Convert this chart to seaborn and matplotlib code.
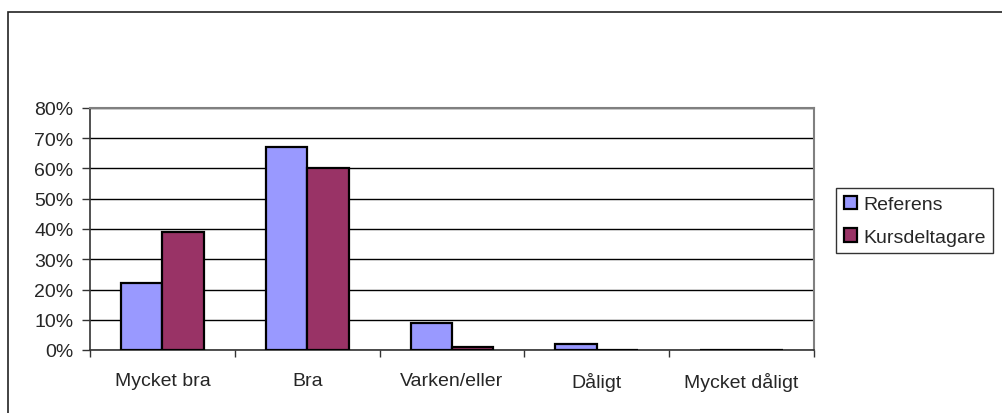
import numpy as np
import pandas as pd
import seaborn as sns
import matplotlib.pyplot as plt
from matplotlib.patches import Patch, Rectangle
from matplotlib.ticker import PercentFormatter, MultipleLocator, FixedLocator

# Data (percent)
categories = ['Mycket bra', 'Bra', 'Varken/eller', 'Dåligt', 'Mycket dåligt']
series = ['Referens', 'Kursdeltagare']
referens = [22, 67, 9, 2, 0]
kursdeltagare = [39, 60, 1, 0, 0]
colors = ['#9999FF', '#993366']

df = pd.DataFrame({
    'kategori': categories * 2,
    'grupp': [series[0]] * len(categories) + [series[1]] * len(categories),
    'andel': referens + kursdeltagare,
})

sns.set_style('white')
plt.rcParams['font.family'] = ['Liberation Sans', 'DejaVu Sans']
FS = 14

fig = plt.figure(figsize=(10.03, 4.14), dpi=100)
ax = fig.add_axes([90 / 1003, 1 - 351 / 414, (814 - 90) / 1003, (351 - 109) / 414])

sns.barplot(data=df, x='kategori', y='andel', hue='grupp', hue_order=series,
            palette=colors, width=0.571, edgecolor='black', linewidth=1.6,
            saturation=1, legend=False, ax=ax, zorder=3)

ax.set_xlim(-0.5, len(categories) - 0.5)
ax.set_ylim(0, 80)
ax.yaxis.set_major_locator(MultipleLocator(10))
ax.yaxis.set_major_formatter(PercentFormatter(100, decimals=0))
ax.grid(axis='y', color='black', linewidth=1, zorder=0)
ax.set_xlabel('')
ax.set_ylabel('')

# ticks: y outward on left, x ticks between categories
ax.tick_params(axis='y', which='major', left=True, length=6, width=1,
               color='#333333', labelsize=FS, pad=6)
ax.tick_params(axis='x', which='major', bottom=True, length=0, labelsize=FS, pad=16)
ax.xaxis.set_minor_locator(FixedLocator(np.arange(-0.5, len(categories), 1.0)))
ax.tick_params(axis='x', which='minor', bottom=True, length=5, width=1, color='#333333')

for side in ['left', 'bottom']:
    ax.spines[side].set_color('#333333')
    ax.spines[side].set_linewidth(1.2)
for side in ['top', 'right']:
    ax.spines[side].set_visible(True)
    ax.spines[side].set_color('#808080')
    ax.spines[side].set_linewidth(1.5)

# legend
handles = [Patch(facecolor=c, edgecolor='black', linewidth=1.6) for c in colors]
leg = fig.legend(handles, series, loc='upper left',
                 bbox_to_anchor=(836 / 1003, 1 - 189 / 414), borderaxespad=0,
                 frameon=True, fancybox=False, edgecolor='black', fontsize=FS,
                 handlelength=0.7, handleheight=0.7, handletextpad=0.3,
                 labelspacing=0.75, borderpad=0.4)
leg.get_frame().set_linewidth(1.0)

# outer chart border
fig.patches.append(Rectangle((8 / 1003, -0.1), 1.2, 1 - 13 / 414 + 0.1,
                             transform=fig.transFigure, fill=False,
                             edgecolor='#222222', linewidth=1.2))

fig.savefig('out.png', dpi=100)
